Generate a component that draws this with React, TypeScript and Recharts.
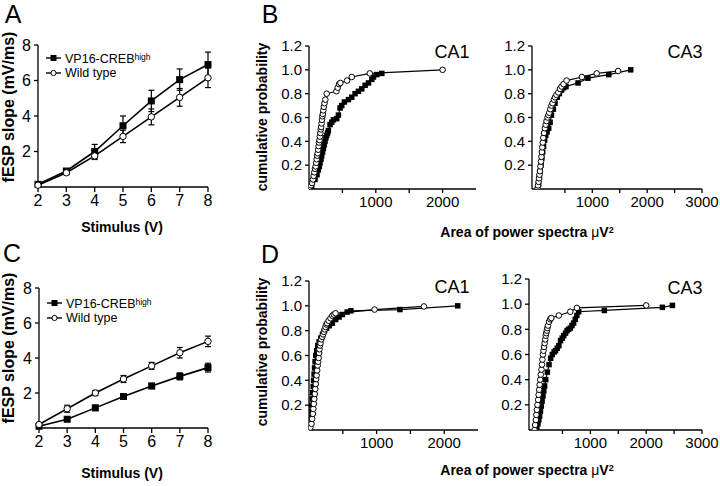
import React from "react"
import {
  ErrorBar,
  Line,
  LineChart,
  Scatter,
  ScatterChart,
  XAxis,
  YAxis,
} from "recharts"

const FONT = '"Liberation Sans", Arial, Helvetica, sans-serif'

// panels A and C: input/output curves
const stimulus = [2, 3, 4, 5, 6, 7, 8]
const stimTicks = [2, 3, 4, 5, 6, 7, 8]
const slopeTicks = [2, 4, 6, 8]

const aVp16 = [0.15, 0.9, 2.0, 3.45, 4.85, 6.05, 6.9]
const aVp16Err = [0.05, 0.1, 0.4, 0.55, 0.6, 0.6, 0.7]
const aWild = [0.1, 0.8, 1.75, 2.85, 3.95, 5.05, 6.15]
const aWildErr = [0.05, 0.1, 0.2, 0.35, 0.45, 0.5, 0.55]

const cVp16 = [0.1, 0.5, 1.15, 1.8, 2.4, 2.95, 3.45]
const cVp16Err = [0.05, 0.1, 0.15, 0.15, 0.15, 0.2, 0.25]
const cWild = [0.2, 1.1, 2.0, 2.8, 3.55, 4.3, 4.95]
const cWildErr = [0.05, 0.2, 0.15, 0.2, 0.2, 0.3, 0.3]

// panels B and D: cumulative distributions
const probTicks = [0.2, 0.4, 0.6, 0.8, 1.0, 1.2]
const ca1Ticks = [500, 1000, 1500, 2000]
const ca3Ticks = [500, 1000, 1500, 2000, 2500, 3000]

const bCa1WildX = [0, 30, 45, 60, 70, 80, 90, 100, 108, 115, 122, 130, 137, 144, 150, 157, 163, 170, 176, 182, 188, 194, 200, 207, 214, 222, 232, 245, 265, 410, 430, 450, 470, 570, 640, 910, 2000]
const bCa1WildY = [0, 0.03, 0.05, 0.08, 0.11, 0.14, 0.17, 0.19, 0.22, 0.25, 0.28, 0.3, 0.33, 0.36, 0.39, 0.41, 0.44, 0.47, 0.5, 0.52, 0.55, 0.58, 0.61, 0.63, 0.66, 0.69, 0.72, 0.75, 0.8, 0.82, 0.85, 0.88, 0.89, 0.91, 0.94, 0.97, 1.0]
const bCa1VpX = [40, 90, 120, 140, 155, 165, 180, 190, 203, 215, 228, 240, 253, 265, 278, 290, 315, 340, 365, 415, 440, 465, 490, 530, 590, 640, 690, 740, 790, 840, 890, 940, 965, 1015, 1090]
const bCa1VpY = [0.02, 0.08, 0.12, 0.16, 0.19, 0.22, 0.25, 0.28, 0.31, 0.34, 0.37, 0.4, 0.43, 0.45, 0.47, 0.49, 0.54, 0.56, 0.58, 0.59, 0.62, 0.68, 0.7, 0.73, 0.75, 0.77, 0.8, 0.82, 0.84, 0.87, 0.89, 0.92, 0.94, 0.96, 0.97]

const bCa3WildX = [0, 10, 20, 28, 36, 45, 54, 63, 72, 80, 87, 96, 106, 120, 136, 150, 165, 185, 200, 215, 235, 255, 275, 300, 320, 345, 380, 410, 440, 475, 530, 810, 1080, 1470]
const bCa3WildY = [0, 0.03, 0.06, 0.09, 0.12, 0.15, 0.19, 0.23, 0.27, 0.31, 0.35, 0.39, 0.43, 0.47, 0.51, 0.54, 0.57, 0.6, 0.62, 0.64, 0.67, 0.7, 0.72, 0.75, 0.77, 0.79, 0.81, 0.84, 0.86, 0.88, 0.91, 0.94, 0.97, 0.99]
const bCa3VpX = [0, 20, 35, 50, 65, 80, 95, 110, 130, 150, 175, 205, 230, 255, 290, 320, 360, 400, 440, 480, 520, 740, 920, 1300, 1700]
const bCa3VpY = [0, 0.04, 0.1, 0.15, 0.2, 0.26, 0.31, 0.36, 0.41, 0.45, 0.48, 0.51, 0.56, 0.62, 0.67, 0.72, 0.77, 0.8, 0.83, 0.85, 0.86, 0.89, 0.93, 0.96, 1.0]

const dCa1WildX = [0, 20, 37, 47, 57, 64, 71, 78, 86, 93, 100, 106, 113, 121, 128, 136, 143, 150, 155, 162, 170, 182, 195, 208, 220, 232, 244, 256, 269, 290, 318, 345, 367, 392, 970, 1700]
const dCa1WildY = [0, 0.02, 0.05, 0.09, 0.13, 0.17, 0.21, 0.25, 0.29, 0.33, 0.37, 0.41, 0.44, 0.48, 0.52, 0.55, 0.58, 0.62, 0.65, 0.68, 0.7, 0.73, 0.75, 0.77, 0.79, 0.81, 0.83, 0.85, 0.86, 0.88, 0.9, 0.92, 0.93, 0.94, 0.97, 0.995]
const dCa1VpX = [0, 15, 25, 35, 40, 48, 55, 62, 68, 75, 82, 90, 100, 115, 130, 150, 175, 200, 230, 260, 300, 345, 395, 445, 495, 565, 620, 1345, 2200]
const dCa1VpY = [0, 0.05, 0.1, 0.15, 0.2, 0.25, 0.3, 0.35, 0.4, 0.45, 0.5, 0.55, 0.6, 0.64, 0.68, 0.71, 0.74, 0.77, 0.8, 0.82, 0.84, 0.86, 0.89, 0.91, 0.93, 0.95, 0.96, 0.97, 1.0]

const dCa3WildX = [0, 10, 23, 32, 41, 52, 64, 73, 82, 91, 100, 111, 123, 132, 141, 150, 160, 170, 180, 190, 200, 210, 220, 229, 240, 259, 280, 300, 435, 640, 758, 2000]
const dCa3WildY = [0, 0.04, 0.08, 0.12, 0.16, 0.2, 0.24, 0.28, 0.32, 0.36, 0.4, 0.44, 0.48, 0.52, 0.56, 0.6, 0.63, 0.66, 0.69, 0.72, 0.75, 0.77, 0.79, 0.81, 0.83, 0.86, 0.88, 0.89, 0.91, 0.94, 0.97, 0.99]
const dCa3VpX = [40, 60, 75, 90, 105, 120, 135, 150, 165, 180, 200, 229, 259, 288, 317, 350, 376, 405, 435, 465, 495, 523, 555, 582, 610, 641, 670, 700, 729, 758, 790, 1250, 2290, 2470]
const dCa3VpY = [0.02, 0.05, 0.08, 0.11, 0.15, 0.19, 0.23, 0.27, 0.31, 0.35, 0.4, 0.46, 0.52, 0.57, 0.6, 0.62, 0.63, 0.65, 0.67, 0.71, 0.73, 0.75, 0.77, 0.79, 0.8, 0.81, 0.83, 0.85, 0.88, 0.91, 0.94, 0.95, 0.975, 0.99]

const toPoints = (xs: number[], ys: number[]) => xs.map((x, i) => ({ x, y: ys[i] }))

function SquareDot(props: any) {
  const { cx, cy, size = 7 } = props
  if (cx == null || cy == null) return null
  return <rect x={cx - size / 2} y={cy - size / 2} width={size} height={size} fill="#000" />
}

function CircleDot(props: any) {
  const { cx, cy, r = 3.2 } = props
  if (cx == null || cy == null) return null
  return <circle cx={cx} cy={cy} r={r} fill="#fff" stroke="#000" strokeWidth={1} />
}

const axisStroke = { stroke: "#000", strokeWidth: 1.3 }

function IOPanel(props: {
  top: number
  height: number
  marginTop: number
  marginBottom: number
  yWidth: number
  vp: number[]
  vpErr: number[]
  wt: number[]
  wtErr: number[]
}) {
  const data = stimulus.map((s, i) => ({
    s,
    vp: props.vp[i],
    vpErr: props.vpErr[i],
    wt: props.wt[i],
    wtErr: props.wtErr[i],
  }))
  return (
    <div style={{ position: "absolute", left: 0, top: props.top }}>
      <LineChart
        width={260}
        height={props.height}
        data={data}
        margin={{ top: props.marginTop, right: 52, left: 0, bottom: props.marginBottom }}
      >
        <XAxis
          dataKey="s"
          type="number"
          domain={[2, 8]}
          ticks={stimTicks}
          height={30}
          tickSize={5}
          tickMargin={3}
          axisLine={axisStroke}
          tickLine={axisStroke}
          tick={{ fill: "#000", fontSize: 16, fontFamily: FONT }}
        />
        <YAxis
          type="number"
          domain={[0, 8]}
          ticks={slopeTicks}
          width={props.yWidth}
          tickSize={4}
          tickMargin={3}
          axisLine={axisStroke}
          tickLine={axisStroke}
          tick={{ fill: "#000", fontSize: 16, fontFamily: FONT }}
        />
        <Line
          dataKey="vp"
          stroke="#000"
          strokeWidth={1.6}
          dot={<SquareDot size={7} />}
          isAnimationActive={false}
        >
          <ErrorBar dataKey="vpErr" width={3} stroke="#000" strokeWidth={1.2} direction="y" />
        </Line>
        <Line
          dataKey="wt"
          stroke="#000"
          strokeWidth={1.6}
          dot={<CircleDot r={3.2} />}
          isAnimationActive={false}
        >
          <ErrorBar dataKey="wtErr" width={3} stroke="#000" strokeWidth={1.2} direction="y" />
        </Line>
      </LineChart>
    </div>
  )
}

function CdfPanel(props: {
  left: number
  top: number
  width: number
  height: number
  marginTop: number
  marginRight: number
  marginBottom: number
  yWidth: number
  domain: [number, number]
  ticks: number[]
  labelled: number[]
  wild: { x: number; y: number }[]
  vp: { x: number; y: number }[]
}) {
  return (
    <div style={{ position: "absolute", left: props.left, top: props.top }}>
      <ScatterChart
        width={props.width}
        height={props.height}
        margin={{ top: props.marginTop, right: props.marginRight, left: 0, bottom: props.marginBottom }}
      >
        <XAxis
          dataKey="x"
          type="number"
          domain={props.domain}
          ticks={props.ticks}
          allowDataOverflow
          height={30}
          tickSize={4}
          tickMargin={3}
          tickFormatter={(v: number) => (props.labelled.includes(v) ? String(v) : "")}
          axisLine={axisStroke}
          tickLine={axisStroke}
          tick={{ fill: "#000", fontSize: 15, fontFamily: FONT }}
        />
        <YAxis
          dataKey="y"
          type="number"
          domain={[0, 1.2]}
          ticks={probTicks}
          allowDataOverflow
          width={props.yWidth}
          tickSize={4}
          tickMargin={3}
          tickFormatter={(v: number) => v.toFixed(1)}
          axisLine={axisStroke}
          tickLine={axisStroke}
          tick={{ fill: "#000", fontSize: 15, fontFamily: FONT }}
        />
        <Scatter
          data={props.vp}
          line={{ stroke: "#000", strokeWidth: 1.2 }}
          lineType="joint"
          shape={<SquareDot size={5.5} />}
          isAnimationActive={false}
        />
        <Scatter
          data={props.wild}
          line={{ stroke: "#000", strokeWidth: 1.2 }}
          lineType="joint"
          shape={<CircleDot r={2.8} />}
          isAnimationActive={false}
        />
      </ScatterChart>
    </div>
  )
}

function Text(props: {
  x: number
  y: number
  size: number
  bold?: boolean
  rotate?: boolean
  children: React.ReactNode
}) {
  return (
    <div
      style={{
        position: "absolute",
        left: props.x,
        top: props.y,
        transform: `translate(-50%, -50%)${props.rotate ? " rotate(-90deg)" : ""}`,
        fontSize: props.size,
        fontWeight: props.bold ? "bold" : "normal",
        fontFamily: FONT,
        whiteSpace: "nowrap",
        lineHeight: 1,
        color: "#000",
      }}
    >
      {props.children}
    </div>
  )
}

function LegendRow(props: { x: number; y: number; filled: boolean; children: React.ReactNode }) {
  return (
    <div
      style={{
        position: "absolute",
        left: props.x,
        top: props.y - 6,
        height: 12,
        lineHeight: "12px",
        display: "flex",
        alignItems: "center",
        fontFamily: FONT,
        fontSize: 12.5,
        whiteSpace: "nowrap",
      }}
    >
      <svg width={17} height={10} style={{ marginRight: 3 }}>
        <line x1={1} y1={5} x2={16} y2={5} stroke="#000" strokeWidth={1.4} />
        {props.filled ? (
          <rect x={5.5} y={2} width={6} height={6} fill="#000" />
        ) : (
          <circle cx={8.5} cy={5} r={2.6} fill="#fff" stroke="#000" strokeWidth={1} />
        )}
      </svg>
      <span>{props.children}</span>
    </div>
  )
}

const Vp16Name = () => (
  <>
    VP16-CREB<span style={{ fontSize: 8.5, verticalAlign: 3 }}>high</span>
  </>
)

export default function App() {
  return (
    <div
      style={{
        position: "absolute",
        left: 0,
        top: 0,
        width: 720,
        height: 486,
        background: "#fff",
        overflow: "hidden",
      }}
    >
      <IOPanel top={0} height={240} marginTop={45} marginBottom={23} yWidth={38} vp={aVp16} vpErr={aVp16Err} wt={aWild} wtErr={aWildErr} />
      <IOPanel top={240} height={246} marginTop={48} marginBottom={28} yWidth={39} vp={cVp16} vpErr={cVp16Err} wt={cWild} wtErr={cWildErr} />

      <CdfPanel left={270} top={0} width={220} height={240} marginTop={46} marginRight={14} marginBottom={21} yWidth={39}
        domain={[0, 2500]} ticks={ca1Ticks} labelled={[1000, 2000]}
        wild={toPoints(bCa1WildX, bCa1WildY)} vp={toPoints(bCa1VpX, bCa1VpY)} />
      <CdfPanel left={490} top={0} width={230} height={240} marginTop={46} marginRight={18} marginBottom={21} yWidth={42}
        domain={[-100, 3000]} ticks={ca3Ticks} labelled={[1000, 2000, 3000]}
        wild={toPoints(bCa3WildX, bCa3WildY)} vp={toPoints(bCa3VpX, bCa3VpY)} />
      <CdfPanel left={270} top={240} width={220} height={246} marginTop={41} marginRight={12} marginBottom={26} yWidth={39}
        domain={[0, 2500]} ticks={ca1Ticks} labelled={[1000, 2000]}
        wild={toPoints(dCa1WildX, dCa1WildY)} vp={toPoints(dCa1VpX, dCa1VpY)} />
      <CdfPanel left={490} top={240} width={230} height={246} marginTop={39} marginRight={18} marginBottom={26} yWidth={39}
        domain={[-100, 3000]} ticks={ca3Ticks} labelled={[1000, 2000, 3000]}
        wild={toPoints(dCa3WildX, dCa3WildY)} vp={toPoints(dCa3VpX, dCa3VpY)} />

      {/* panel letters */}
      <Text x={13} y={14} size={25}>A</Text>
      <Text x={270} y={14} size={25}>B</Text>
      <Text x={12} y={253} size={25}>C</Text>
      <Text x={270} y={254} size={25}>D</Text>

      {/* legends */}
      <LegendRow x={45} y={58} filled><Vp16Name /></LegendRow>
      <LegendRow x={45} y={73} filled={false}>Wild type</LegendRow>
      <LegendRow x={46} y={303} filled><Vp16Name /></LegendRow>
      <LegendRow x={46} y={318} filled={false}>Wild type</LegendRow>

      {/* axis titles */}
      <Text x={9} y={107} size={16} bold rotate>fESP slope (mV/ms)</Text>
      <Text x={9} y={348} size={16} bold rotate>fESP slope (mV/ms)</Text>
      <Text x={122} y={227} size={14} bold>Stimulus (V)</Text>
      <Text x={122} y={473} size={14} bold>Stimulus (V)</Text>
      <Text x={262} y={117} size={14} bold rotate>cumulative probability</Text>
      <Text x={262} y={352} size={14} bold rotate>cumulative probability</Text>
      <Text x={527} y={232} size={14} bold>Area of power spectra <span style={{ fontWeight: "normal" }}>μ</span>V<span style={{ fontSize: 9, verticalAlign: 4 }}>2</span></Text>
      <Text x={527} y={470} size={14} bold>Area of power spectra <span style={{ fontWeight: "normal" }}>μ</span>V<span style={{ fontSize: 9, verticalAlign: 4 }}>2</span></Text>

      {/* region labels */}
      <Text x={452} y={52} size={18}>CA1</Text>
      <Text x={685} y={52} size={18}>CA3</Text>
      <Text x={452} y={287} size={18}>CA1</Text>
      <Text x={685} y={288} size={18}>CA3</Text>
    </div>
  )
}
